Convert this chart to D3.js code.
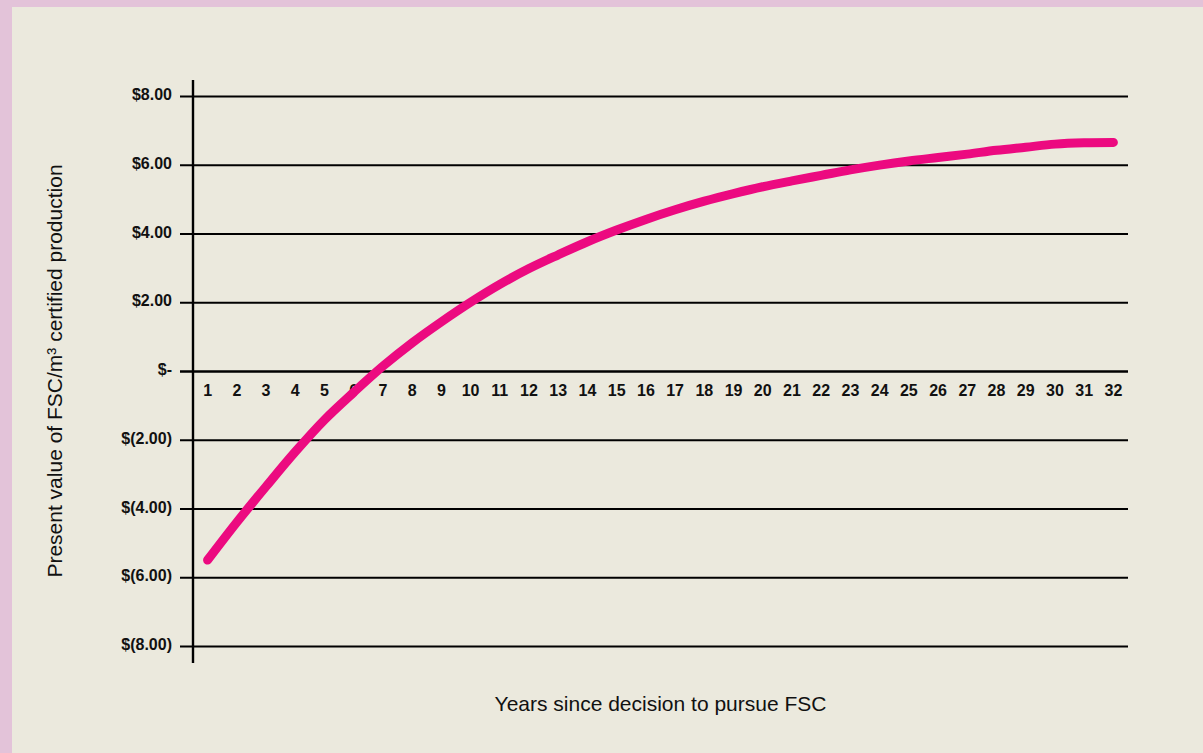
<!DOCTYPE html>
<html>
<head>
<meta charset="utf-8">
<script src="https://cdn.jsdelivr.net/npm/d3@7"></script>
<style>
	body { margin: 0; padding: 0; background: #e3c3d9; }
	svg { display: block; }
</style>
</head>
<body>
<div id="chart"></div>
<script>
// years since the decision, and present value per m3 at each year
var years = d3.range(1, 33);
var presentValues = [
	-5.5, -4.4, -3.36, -2.35, -1.42, -0.62, 0.14, 0.82,
	1.43, 2.0, 2.52, 2.98, 3.38, 3.76, 4.1, 4.41,
	4.69, 4.94, 5.16, 5.36, 5.53, 5.69, 5.85, 5.99,
	6.11, 6.21, 6.31, 6.42, 6.51, 6.6, 6.64, 6.65
];
var yTicks = [-8, -6, -4, -2, 0, 2, 4, 6, 8];

var params = {
	width: 1203,
	height: 753,
	plot: { left: 193, right: 1128, top: 96, bottom: 646 },
	lineColour: "#ec0a80"
};

var svg = d3.select("#chart").append("svg")
	.attr("width", params.width)
	.attr("height", params.height);

// beige panel, leaves the pink frame on the left and top
svg.append("rect")
	.attr("x", 12)
	.attr("y", 7)
	.attr("width", params.width - 12)
	.attr("height", params.height - 7)
	.style("fill", "#ebe9dd");

var x = d3.scaleBand()
	.domain(years)
	.range([params.plot.left, params.plot.right]);

var y = d3.scaleLinear()
	.domain([-8, 8])
	.range([params.plot.bottom, params.plot.top]);

var money = function(v) {
	if (v === 0) return "$-";
	var s = d3.format(".2f")(Math.abs(v));
	return v < 0 ? "$(" + s + ")" : "$" + s;
};

// gridlines with the small outward tick
var yAxis = d3.axisLeft(y)
	.tickValues(yTicks)
	.tickSize(-(params.plot.right - params.plot.left))
	.tickFormat(money);

var gy = svg.append("g")
	.attr("transform", "translate(" + params.plot.left + ",0)")
	.call(yAxis);

gy.select(".domain").remove();
gy.selectAll(".tick line")
	.attr("x1", -13)
	.attr("stroke", "#000")
	.attr("stroke-width", function(d) { return d === 0 ? 2.6 : 2; });
gy.selectAll(".tick text")
	.attr("x", -21)
	.attr("dy", "0.22em")
	.style("font-family", "'Liberation Sans', Arial, sans-serif")
	.style("font-weight", "bold")
	.style("font-size", "16px")
	.style("fill", "#111");

// vertical axis line
svg.append("line")
	.attr("x1", params.plot.left)
	.attr("x2", params.plot.left)
	.attr("y1", 80)
	.attr("y2", 663)
	.attr("stroke", "#000")
	.attr("stroke-width", 2.4);

// year labels sit just under the zero line
svg.append("g").selectAll(".year")
	.data(years)
	.enter().append("text")
	.attr("class", "year")
	.attr("x", function(d) { return x(d) + x.bandwidth() / 2; })
	.attr("y", y(0) + 25)
	.attr("text-anchor", "middle")
	.style("font-family", "'Liberation Sans', Arial, sans-serif")
	.style("font-weight", "bold")
	.style("font-size", "16px")
	.style("fill", "#111")
	.text(function(d) { return d; });

var line = d3.line()
	.x(function(d, i) { return x(years[i]) + x.bandwidth() / 2; })
	.y(function(d) { return y(d); })
	.curve(d3.curveCatmullRom.alpha(0.5));

svg.append("path")
	.datum(presentValues)
	.attr("d", line)
	.attr("fill", "none")
	.attr("stroke", params.lineColour)
	.attr("stroke-width", 9)
	.attr("stroke-linecap", "round")
	.attr("stroke-linejoin", "round");

// axis titles
svg.append("text")
	.attr("x", (params.plot.left + params.plot.right) / 2)
	.attr("y", 711)
	.attr("text-anchor", "middle")
	.style("font-family", "'Liberation Sans', Arial, sans-serif")
	.style("font-size", "21px")
	.style("fill", "#111")
	.text("Years since decision to pursue FSC");

svg.append("text")
	.attr("transform", "translate(62," + y(0) + ") rotate(-90)")
	.attr("text-anchor", "middle")
	.style("font-family", "'Liberation Sans', Arial, sans-serif")
	.style("font-size", "21px")
	.style("fill", "#111")
	.text("Present value of FSC/m³ certified production");
</script>
</body>
</html>
